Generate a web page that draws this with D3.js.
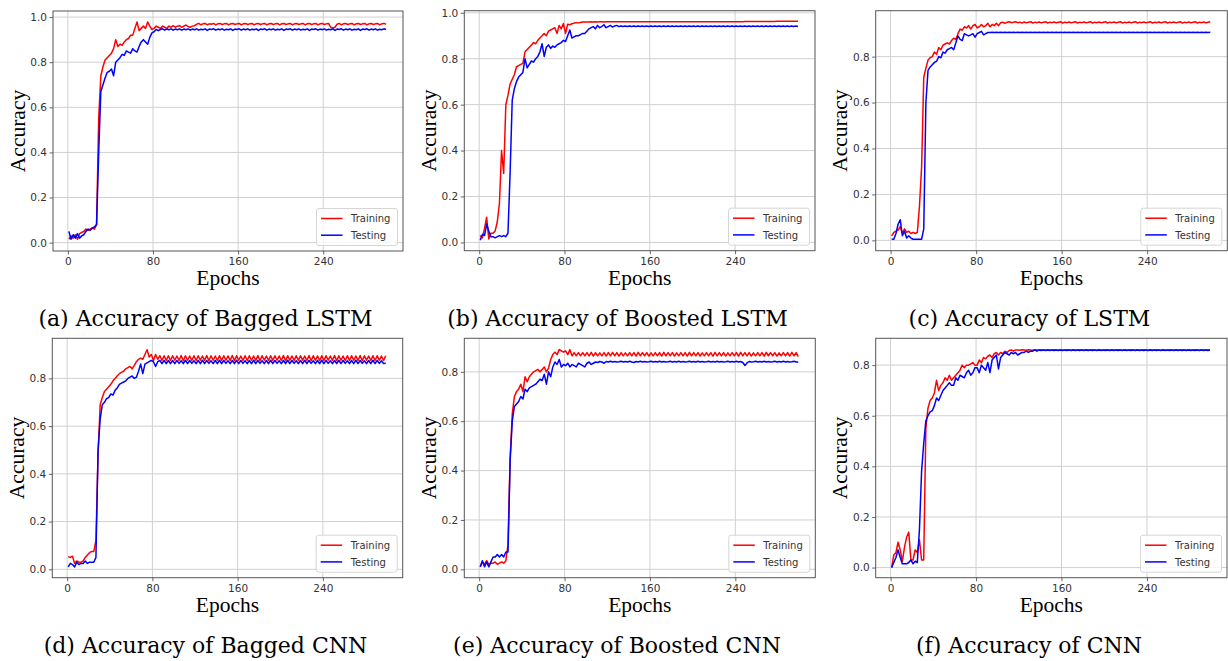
<!DOCTYPE html>
<html><head><meta charset="utf-8">
<script src="https://cdn.jsdelivr.net/npm/d3@7"></script>
<style>html,body{margin:0;padding:0;background:#fff;}svg{display:block;}</style>
</head><body>
<svg id="chart" width="1228" height="661"></svg>
<script>
// Epochs sampled every 2 epochs (1,3,...,299)
const epochs = d3.range(1, 300, 2);
const xTicks = [0, 80, 160, 240];
const seriesNames = ["Training", "Testing"];
const captions = ["(a) Accuracy of Bagged LSTM", "(b) Accuracy of Boosted LSTM", "(c) Accuracy of LSTM",
                  "(d) Accuracy of Bagged CNN", "(e) Accuracy of Boosted CNN", "(f) Accuracy of CNN"];
const yTicksFull = [0, 0.2, 0.4, 0.6, 0.8, 1.0];
const yTicksShort = [0, 0.2, 0.4, 0.6, 0.8];

const bagLstmTrain = [
.015,.03,.02,.035,.015,.04,.045,.05,.06,.055,
.06,.065,.06,.08,.55,.74,.78,.81,.82,.83,
.84,.86,.9,.87,.88,.875,.89,.9,.905,.92,
.92,.95,.978,.94,.95,.96,.95,.978,.96,.945,
.95,.96,.955,.95,.96,.955,.95,.96,.955,.962,
.955,.96,.962,.955,.96,.965,.958,.955,.96,.962,
.968,.972,.966,.97,.972,.966,.97,.968,.972,.966,
.97,.972,.967,.97,.972,.966,.97,.972,.967,.97,
.972,.966,.97,.972,.967,.97,.972,.966,.97,.972,
.967,.97,.972,.966,.97,.972,.967,.97,.972,.966,
.97,.972,.967,.97,.972,.966,.97,.972,.967,.97,
.972,.966,.97,.972,.967,.97,.972,.966,.97,.972,
.967,.97,.972,.955,.952,.955,.968,.972,.966,.97,
.972,.967,.97,.972,.966,.97,.972,.967,.97,.972,
.966,.97,.972,.967,.97,.972,.966,.97,.972,.968];
const bagLstmTest = [
.05,.015,.035,.02,.04,.02,.03,.035,.05,.06,
.055,.065,.07,.08,.4,.67,.7,.73,.755,.76,
.77,.74,.8,.81,.82,.835,.83,.85,.845,.84,
.86,.85,.845,.87,.89,.9,.89,.88,.91,.93,
.935,.945,.94,.945,.948,.942,.947,.944,.948,.942,
.947,.944,.948,.942,.947,.944,.948,.942,.947,.944,
.948,.942,.946,.944,.948,.941,.947,.945,.948,.942,
.947,.944,.948,.942,.946,.944,.948,.941,.947,.945,
.948,.942,.947,.944,.948,.942,.946,.944,.948,.941,
.947,.945,.948,.942,.947,.944,.948,.942,.946,.944,
.948,.941,.947,.945,.948,.942,.947,.944,.948,.942,
.946,.944,.948,.941,.947,.945,.948,.942,.947,.944,
.948,.942,.946,.944,.948,.941,.947,.945,.948,.942,
.947,.944,.948,.942,.946,.944,.948,.941,.947,.945,
.948,.942,.947,.944,.948,.942,.946,.944,.948,.945];

const boostLstmTrain = [
.03,.02,.06,.11,.015,.04,.04,.05,.09,.17,
.4,.3,.6,.64,.69,.71,.73,.765,.77,.775,
.78,.83,.84,.85,.86,.87,.865,.88,.89,.9,
.91,.9,.92,.925,.93,.935,.91,.945,.93,.953,
.91,.95,.948,.952,.955,.957,.956,.958,.96,.96,
.96,.96,.961,.96,.961,.96,.961,.961,.96,.961,
.961,.961,.961,.961,.961,.961,.961,.961,.961,.961,
.961,.961,.961,.961,.961,.961,.961,.961,.961,.961,
.961,.961,.961,.961,.961,.961,.961,.961,.961,.961,
.961,.961,.961,.961,.961,.961,.961,.961,.961,.961,
.961,.961,.961,.961,.961,.961,.961,.961,.961,.961,
.961,.961,.961,.961,.961,.961,.961,.961,.961,.961,
.961,.961,.961,.961,.962,.962,.962,.962,.962,.962,
.962,.962,.962,.962,.962,.962,.962,.962,.962,.963,
.963,.963,.963,.963,.963,.963,.963,.963,.963,.963];
const boostLstmTest = [
.01,.035,.03,.08,.05,.025,.025,.02,.025,.03,
.025,.03,.025,.04,.3,.62,.67,.7,.72,.73,
.74,.8,.76,.775,.79,.785,.8,.81,.83,.865,
.81,.85,.86,.845,.855,.85,.86,.865,.87,.88,
.875,.9,.925,.89,.895,.9,.9,.905,.91,.91,
.92,.93,.935,.94,.93,.945,.935,.94,.948,.935,
.94,.945,.938,.942,.945,.94,.942,.94,.942,.94,
.942,.94,.942,.94,.942,.94,.942,.94,.942,.94,
.942,.94,.942,.94,.942,.94,.942,.94,.942,.94,
.942,.94,.942,.94,.942,.94,.942,.94,.942,.94,
.942,.94,.942,.94,.942,.94,.942,.94,.942,.94,
.942,.94,.942,.94,.942,.94,.942,.94,.942,.94,
.942,.94,.942,.94,.942,.94,.942,.94,.942,.94,
.942,.94,.942,.94,.942,.94,.942,.94,.942,.94,
.942,.94,.942,.94,.942,.94,.942,.94,.942,.94];

const lstmTrain = [
.02,.035,.04,.045,.06,.03,.05,.035,.04,.03,
.035,.03,.035,.15,.32,.71,.75,.785,.795,.8,
.82,.81,.84,.83,.85,.855,.86,.855,.87,.88,
.875,.9,.92,.915,.93,.925,.935,.92,.935,.94,
.925,.93,.94,.93,.935,.945,.93,.94,.935,.945,
.935,.948,.95,.945,.95,.952,.948,.95,.952,.948,
.95,.946,.951,.947,.95,.952,.946,.95,.948,.951,
.947,.95,.952,.946,.95,.948,.951,.947,.95,.952,
.946,.95,.948,.951,.947,.95,.952,.946,.95,.948,
.951,.947,.95,.952,.946,.95,.948,.951,.947,.95,
.952,.946,.95,.948,.951,.947,.95,.952,.946,.95,
.948,.951,.947,.95,.952,.946,.95,.948,.951,.947,
.95,.952,.946,.95,.948,.951,.947,.95,.952,.946,
.95,.948,.951,.947,.95,.952,.946,.95,.948,.951,
.947,.95,.952,.946,.95,.948,.951,.947,.95,.952];
const lstmTest = [
.005,.005,.03,.07,.09,.02,.04,.01,.02,.01,
.005,.005,.005,.005,.005,.05,.6,.74,.755,.765,
.775,.78,.8,.795,.82,.815,.83,.835,.84,.83,
.86,.89,.875,.87,.9,.895,.89,.895,.9,.885,
.9,.905,.91,.895,.9,.905,.905,.906,.905,.906,
.905,.906,.905,.906,.905,.906,.905,.906,.905,.906,
.905,.906,.905,.906,.905,.906,.905,.906,.905,.906,
.905,.906,.905,.906,.905,.906,.905,.906,.905,.906,
.905,.906,.905,.906,.905,.906,.905,.906,.905,.906,
.905,.906,.905,.906,.905,.906,.905,.906,.905,.906,
.905,.906,.905,.906,.905,.906,.905,.906,.905,.906,
.905,.906,.905,.906,.905,.906,.905,.906,.905,.906,
.905,.906,.905,.906,.905,.906,.905,.906,.905,.906,
.905,.906,.905,.906,.905,.906,.905,.906,.905,.906,
.905,.906,.905,.906,.905,.906,.905,.906,.905,.906];

const bagCnnTrain = [
.053,.05,.055,.025,.035,.03,.03,.035,.05,.06,
.07,.075,.075,.12,.48,.69,.72,.745,.755,.765,
.775,.79,.8,.81,.82,.825,.83,.84,.845,.85,
.84,.855,.87,.88,.885,.88,.9,.92,.89,.9,
.875,.9,.88,.895,.875,.895,.875,.895,.875,.895,
.876,.894,.875,.896,.874,.895,.876,.894,.875,.895,
.875,.895,.876,.894,.875,.896,.874,.895,.876,.894,
.875,.895,.875,.895,.876,.894,.875,.896,.874,.895,
.876,.894,.875,.895,.875,.895,.876,.894,.875,.896,
.874,.895,.876,.894,.875,.895,.875,.895,.876,.894,
.875,.896,.874,.895,.876,.894,.875,.895,.875,.895,
.876,.894,.875,.896,.874,.895,.876,.894,.875,.895,
.875,.895,.876,.894,.875,.896,.874,.895,.876,.894,
.875,.895,.875,.895,.876,.894,.875,.896,.874,.895,
.876,.894,.875,.895,.875,.895,.876,.894,.875,.895];
const bagCnnTest = [
.01,.025,.02,.01,.03,.02,.025,.025,.035,.025,
.03,.03,.03,.05,.5,.63,.69,.7,.715,.72,
.735,.73,.75,.76,.775,.78,.785,.79,.8,.805,
.81,.8,.805,.83,.86,.82,.86,.865,.87,.875,
.87,.85,.87,.875,.862,.875,.862,.875,.862,.875,
.862,.875,.863,.874,.862,.876,.862,.875,.863,.874,
.862,.875,.862,.876,.862,.875,.863,.874,.862,.875,
.862,.876,.862,.875,.863,.874,.862,.875,.862,.876,
.862,.875,.863,.874,.862,.875,.862,.876,.862,.875,
.863,.874,.862,.875,.862,.876,.862,.875,.863,.874,
.862,.875,.862,.876,.862,.875,.863,.874,.862,.875,
.862,.876,.862,.875,.863,.874,.862,.875,.862,.876,
.862,.875,.863,.874,.862,.875,.862,.876,.862,.875,
.863,.874,.862,.875,.862,.876,.862,.875,.863,.874,
.862,.875,.862,.876,.862,.875,.863,.874,.862,.863];

const boostCnnTrain = [
.01,.03,.02,.035,.02,.025,.025,.03,.02,.025,
.03,.025,.035,.1,.45,.63,.7,.72,.73,.75,
.72,.78,.76,.78,.79,.8,.805,.81,.8,.81,
.82,.8,.815,.85,.87,.88,.87,.89,.885,.88,
.885,.87,.89,.865,.878,.865,.878,.865,.878,.865,
.878,.865,.879,.864,.878,.865,.877,.865,.878,.864,
.878,.865,.879,.865,.878,.864,.878,.865,.877,.865,
.878,.865,.878,.864,.879,.865,.878,.865,.878,.864,
.877,.865,.878,.865,.878,.864,.879,.865,.878,.865,
.878,.864,.877,.865,.878,.865,.878,.864,.879,.865,
.878,.865,.878,.864,.877,.865,.878,.865,.878,.864,
.879,.865,.878,.865,.878,.864,.877,.865,.878,.865,
.878,.864,.879,.865,.878,.865,.878,.864,.877,.865,
.878,.865,.878,.864,.879,.865,.878,.865,.878,.864,
.877,.865,.878,.865,.878,.864,.879,.865,.878,.862];
const boostCnnTest = [
.01,.035,.01,.03,.01,.03,.05,.05,.06,.05,
.06,.05,.07,.07,.44,.6,.66,.67,.68,.7,
.69,.73,.72,.735,.74,.745,.75,.76,.77,.765,
.79,.75,.8,.78,.82,.84,.83,.85,.82,.83,
.825,.835,.82,.83,.825,.82,.835,.83,.825,.82,
.835,.84,.83,.835,.84,.838,.842,.84,.835,.842,
.84,.843,.84,.842,.84,.841,.843,.84,.842,.84,
.843,.84,.838,.842,.84,.843,.84,.842,.84,.841,
.843,.84,.842,.84,.843,.84,.842,.84,.841,.843,
.84,.842,.84,.843,.84,.842,.84,.841,.843,.84,
.842,.84,.843,.84,.842,.84,.841,.843,.84,.842,
.84,.843,.84,.842,.84,.841,.843,.84,.842,.84,
.843,.84,.842,.838,.826,.836,.842,.84,.841,.843,
.84,.842,.84,.843,.84,.842,.84,.841,.843,.84,
.842,.84,.843,.84,.842,.84,.841,.843,.84,.84];

const cnnTrain = [
0,.05,.06,.1,.07,.025,.08,.12,.14,.03,
.03,.07,.06,.11,.03,.03,.55,.63,.66,.67,
.69,.74,.7,.72,.73,.75,.74,.76,.74,.75,
.76,.77,.78,.8,.79,.8,.8,.805,.81,.8,
.8,.82,.81,.83,.825,.835,.84,.83,.845,.85,
.84,.85,.845,.855,.85,.858,.86,.855,.86,.86,
.859,.861,.86,.859,.861,.86,.859,.861,.86,.859,
.861,.86,.859,.861,.86,.859,.861,.86,.859,.861,
.86,.859,.861,.86,.859,.861,.86,.859,.861,.86,
.859,.861,.86,.859,.861,.86,.859,.861,.86,.859,
.861,.86,.859,.861,.86,.859,.861,.86,.859,.861,
.86,.859,.861,.86,.859,.861,.86,.859,.861,.86,
.859,.861,.86,.859,.861,.86,.859,.861,.86,.859,
.861,.86,.859,.861,.86,.859,.861,.86,.859,.861,
.86,.859,.861,.86,.859,.861,.86,.859,.861,.86];
const cnnTest = [
0,.02,.04,.07,.04,.015,.015,.015,.02,.03,
.015,.025,.02,.15,.38,.49,.58,.6,.615,.62,
.64,.67,.66,.68,.7,.71,.72,.73,.72,.72,
.75,.74,.76,.755,.75,.77,.78,.76,.77,.79,
.79,.77,.8,.79,.78,.81,.77,.82,.83,.84,
.785,.83,.84,.85,.845,.84,.85,.845,.85,.84,
.845,.85,.85,.855,.85,.855,.855,.86,.855,.86,
.858,.86,.858,.86,.858,.86,.858,.86,.858,.86,
.858,.86,.858,.86,.858,.86,.858,.86,.858,.86,
.858,.86,.858,.86,.858,.86,.858,.86,.858,.86,
.858,.86,.858,.86,.858,.86,.858,.86,.858,.86,
.858,.86,.858,.86,.858,.86,.858,.86,.858,.86,
.858,.86,.858,.86,.858,.86,.858,.86,.858,.86,
.858,.86,.858,.86,.858,.86,.858,.86,.858,.86,
.858,.86,.858,.86,.858,.86,.858,.86,.858,.86];

const panels = [
  {train: bagLstmTrain,   test: bagLstmTest,   yDom: [-0.037, 1.027], yTicks: yTicksFull,  box: [53, 11, 403, 251],        cap: [205.5, 326]},
  {train: boostLstmTrain, test: boostLstmTest, yDom: [-0.036, 1.009], yTicks: yTicksFull,  box: [464.3, 10.7, 815, 250.7], cap: [617.5, 326]},
  {train: lstmTrain,      test: lstmTest,      yDom: [-0.045, 1.0],   yTicks: yTicksShort, box: [875.7, 10.7, 1227.3, 250.7], cap: [1029.5, 326]},
  {train: bagCnnTrain,    test: bagCnnTest,    yDom: [-0.035, 0.968], yTicks: yTicksShort, box: [52.3, 338.3, 402.7, 577.7], cap: [205.5, 653.3]},
  {train: boostCnnTrain,  test: boostCnnTest,  yDom: [-0.034, 0.936], yTicks: yTicksShort, box: [464.3, 338.3, 815.3, 577.7], cap: [617, 653.3]},
  {train: cnnTrain,       test: cnnTest,       yDom: [-0.04, 0.906],  yTicks: yTicksShort, box: [875.7, 338.3, 1227, 577.7], cap: [1029, 653.3]}
];
const colors = ["#ff0000", "#0000ff"];

const svg = d3.select("#chart");
panels.forEach((p, pi) => {
  const [L, T, R, B] = p.box;
  const x = d3.scaleLinear().domain([-13.95, 314.95]).range([L, R]);
  const y = d3.scaleLinear().domain(p.yDom).range([B, T]);
  const g = svg.append("g");
  const clipId = "clip" + pi;
  g.append("clipPath").attr("id", clipId).append("rect")
    .attr("x", L).attr("y", T).attr("width", R - L).attr("height", B - T);

  // grid
  g.append("g").selectAll("line").data(xTicks).join("line")
    .attr("x1", d => x(d)).attr("x2", d => x(d)).attr("y1", T).attr("y2", B)
    .attr("stroke", "#d0d0d0").attr("stroke-width", 1);
  g.append("g").selectAll("line").data(p.yTicks).join("line")
    .attr("x1", L).attr("x2", R).attr("y1", d => y(d)).attr("y2", d => y(d))
    .attr("stroke", "#d0d0d0").attr("stroke-width", 1);

  // axes
  const xa = g.append("g").attr("transform", `translate(0,${B})`)
    .call(d3.axisBottom(x).tickValues(xTicks).tickSize(3.5).tickPadding(3).tickFormat(d3.format("d")));
  const ya = g.append("g").attr("transform", `translate(${L},0)`)
    .call(d3.axisLeft(y).tickValues(p.yTicks).tickSize(3.5).tickPadding(2.5).tickFormat(d3.format(".1f")));
  [xa, ya].forEach(a => {
    a.select(".domain").remove();
    a.selectAll(".tick line").attr("stroke", "#555").attr("stroke-width", 0.9);
    a.selectAll(".tick text").attr("fill", "#333").style("font-family", "DejaVu Sans").style("font-size", "10.5px");
  });

  // lines
  const line = d3.line().x((d, i) => x(epochs[i])).y(d => y(d));
  [p.train, p.test].forEach((s, si) => {
    g.append("path").datum(s).attr("clip-path", `url(#${clipId})`)
      .attr("fill", "none").attr("stroke", colors[si]).attr("stroke-width", 1.5)
      .attr("stroke-linejoin", "round").attr("d", line);
  });

  // frame
  g.append("rect").attr("x", L).attr("y", T).attr("width", R - L).attr("height", B - T)
    .attr("fill", "none").attr("stroke", "#555").attr("stroke-width", 1);

  // legend
  const lw = 81, lh = 37;
  const lx = R - 5.5 - lw, ly = B - 5.5 - lh;
  const leg = g.append("g");
  leg.append("rect").attr("x", lx).attr("y", ly).attr("width", lw).attr("height", lh)
    .attr("rx", 2.5).attr("fill", "#fff").attr("fill-opacity", 0.8).attr("stroke", "#d6d6d6").attr("stroke-width", 1);
  seriesNames.forEach((n, i) => {
    const yy = ly + 10 + i * 16.7;
    leg.append("line").attr("x1", lx + 4.5).attr("x2", lx + 26).attr("y1", yy).attr("y2", yy)
      .attr("stroke", colors[i]).attr("stroke-width", 1.5);
    leg.append("text").attr("x", lx + 34.5).attr("y", yy + 3.6).text(n)
      .attr("fill", "#333").style("font-family", "DejaVu Sans").style("font-size", "10px");
  });

  // axis labels
  g.append("text").attr("x", (L + R) / 2).attr("y", B + 34).attr("text-anchor", "middle")
    .style("font-family", "Liberation Serif").style("font-size", "21.5px").attr("fill", "#000").text("Epochs");
  g.append("text").attr("transform", `translate(${L - 28.5},${(T + B) / 2}) rotate(-90)`).attr("text-anchor", "middle")
    .style("font-family", "Liberation Serif").style("font-size", "21.5px").attr("fill", "#000").text("Accuracy");

  // caption
  g.append("text").attr("x", p.cap[0]).attr("y", p.cap[1]).attr("text-anchor", "middle")
    .style("font-family", "DejaVu Serif").style("font-size", "22px").attr("fill", "#000").text(captions[pi]);
});
</script>
</body></html>
